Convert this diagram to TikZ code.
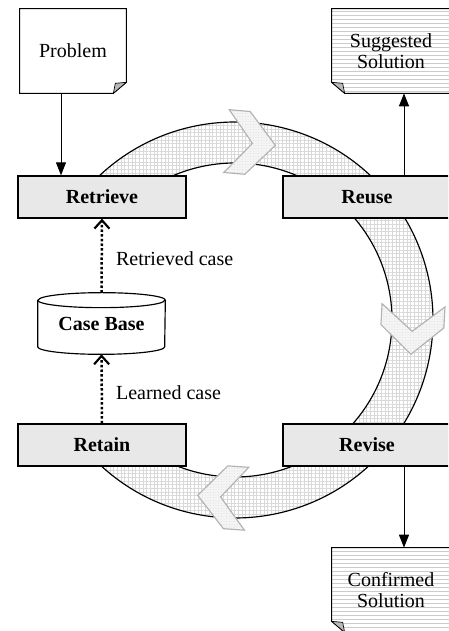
\documentclass[tikz,border=0pt]{standalone}
\usepackage{fontspec}
\setmainfont{Liberation Serif}
\usetikzlibrary{arrows.meta,patterns.meta,backgrounds}

\tikzset{
	stepbox/.style={draw, line width=0.8pt, fill=gray!18, minimum width=100.8pt, minimum height=25.2pt, font=\fontsize{12}{12.6}\selectfont\bfseries},
	docnode/.style={minimum width=70.8pt, minimum height=50.4pt, align=center},
	docline/.style={line width=0.6pt},
	lined/.style={pattern={Lines[angle=0, distance=2.4pt, line width=0.3pt]}, pattern color=gray!40},
	fold/.style={fill=gray!55, draw, line width=0.4pt},
	ring/.style={line width=0.7pt, pattern={Hatch[angle=0, distance=2.2pt, line width=0.2pt]}, pattern color=gray!30},
	chev/.style={draw=gray!60, line width=0.7pt, fill=gray!8, postaction={pattern={Dots[distance=1.6pt, radius=0.25pt]}, pattern color=gray!40}},
	flow/.style={line width=0.6pt, -{Triangle[length=7.8pt, width=6pt]}},
	caseflow/.style={line width=1.5pt, dash pattern=on 1.5pt off 1.3pt, -{Straight Barb[length=5pt, width=9pt, line width=1.3pt]}}
}

\begin{document}
\begin{tikzpicture}[x=0.6pt, y=0.6pt, font=\fontsize{12}{12.6}\selectfont]
	\useasboundingbox (0,0) rectangle (448,631);
	\clip (0,0) rectangle (448,631);

	% cycle
	\coordinate (c) at (235,311);
	\draw[ring] ([shift={(135:198)}]c) arc[start angle=135, end angle=-135, radius=198]
		-- ([shift={(-135:157)}]c) arc[start angle=-135, end angle=135, radius=157] -- cycle;
	\draw[chev, shift={(c)}, shift={(85:177.5)}, rotate=-5]
		(-24,31.5) -- (-3,31.5) -- (25,0) -- (-3,-31.5) -- (-24,-31.5) -- (2,0) -- cycle;
	\draw[chev, shift={(c)}, shift={(-3:177.5)}, rotate=-93]
		(-24,31.5) -- (-3,31.5) -- (25,0) -- (-3,-31.5) -- (-24,-31.5) -- (2,0) -- cycle;
	\draw[chev, shift={(c)}, shift={(-94:177.5)}, rotate=-184]
		(-24,31.5) -- (-3,31.5) -- (25,0) -- (-3,-31.5) -- (-24,-31.5) -- (2,0) -- cycle;

	% steps
	\node[stepbox] (retr) at (102,434) {Retrieve};
	\node[stepbox] (reuse) at (367,434) {Reuse};
	\node[stepbox] (revise) at (367,186) {Revise};
	\node[stepbox] (retain) at (102,186) {Retain};

	% documents
	\node[docnode, minimum width=63.6pt] (prob) at (73,580) {Problem};
	\node[docnode] (sugg) at (391,580) {Suggested\\Solution};
	\node[docnode] (conf) at (391,41) {Confirmed\\Solution};
	\begin{pgfonlayer}{background}
		\draw[docline, fill=white] (prob.north west) -- (prob.north east) -- ([yshift=6.6pt]prob.south east)
			-- ([xshift=-7.8pt]prob.south east) -- (prob.south west) -- cycle;
		\draw[fold] ([yshift=6.6pt]prob.south east) -- ([xshift=-7.8pt]prob.south east)
			-- ([xshift=-6.6pt, yshift=6pt]prob.south east) -- cycle;
		\draw[docline, lined] (sugg.north west) -- (sugg.north east) -- (sugg.south east)
			-- ([xshift=7.8pt]sugg.south west) -- ([yshift=6.6pt]sugg.south west) -- cycle;
		\draw[fold] ([xshift=7.8pt]sugg.south west) -- ([yshift=6.6pt]sugg.south west)
			-- ([xshift=6.6pt, yshift=6pt]sugg.south west) -- cycle;
		\draw[docline, lined] (conf.north west) -- (conf.north east) -- (conf.south east)
			-- ([xshift=7.8pt]conf.south west) -- ([yshift=6.6pt]conf.south west) -- cycle;
		\draw[fold] ([xshift=7.8pt]conf.south west) -- ([yshift=6.6pt]conf.south west)
			-- ([xshift=6.6pt, yshift=6pt]conf.south west) -- cycle;
	\end{pgfonlayer}

	% case base
	\node[minimum width=76.2pt, minimum height=36.6pt, font=\fontsize{12}{12.6}\selectfont\bfseries] (cb) at (101.5,307.5) {Case Base};
	\draw[line width=0.7pt] ([yshift=-4.5pt]cb.north west) -- ([yshift=4.5pt]cb.south west)
		arc[start angle=180, end angle=360, x radius=38.1pt, y radius=4.5pt]
		-- ([yshift=-4.5pt]cb.north east)
		arc[start angle=0, end angle=180, x radius=38.1pt, y radius=4.5pt] -- cycle;
	\draw[line width=0.7pt] ([yshift=-4.5pt]cb.north west)
		arc[start angle=180, end angle=360, x radius=38.1pt, y radius=4.5pt];

	% arrows
	\draw[flow] ([xshift=-7.2pt]prob.south) -- ([xshift=-7.2pt]prob.south |- retr.north);
	\draw[flow] ([xshift=22.2pt]reuse.north) -- ([xshift=22.2pt]reuse.north |- sugg.south);
	\draw[flow] ([xshift=22.2pt]revise.south) -- ([xshift=22.2pt]revise.south |- conf.north);
	\draw[caseflow] (cb.north) -- node[right, xshift=4.5pt, yshift=-2pt] {Retrieved case} (retr.south);
	\draw[caseflow] (retain.north) -- node[right, xshift=4.5pt, yshift=-2pt] {Learned case} (cb.south);
\end{tikzpicture}
\end{document}
